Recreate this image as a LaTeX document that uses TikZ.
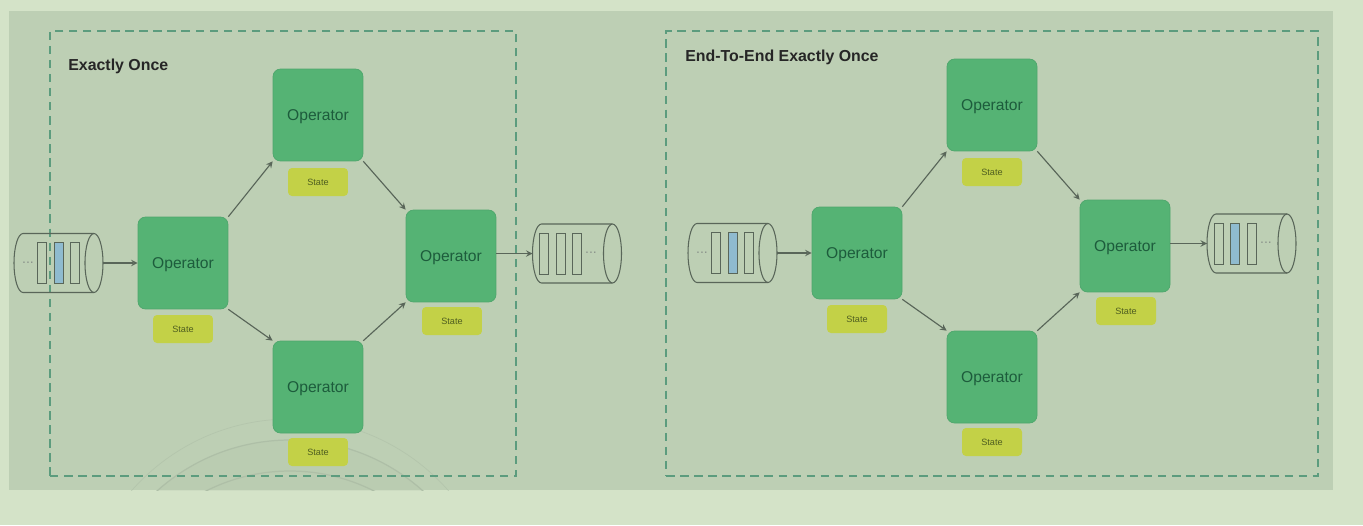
\documentclass[tikz,border=0pt]{standalone}
\usepackage{fontspec}
\setmainfont{Liberation Sans}
\definecolor{pagegreen}{HTML}{D4E3C8}
\definecolor{panelgreen}{HTML}{BDCFB4}
\definecolor{opgreen}{HTML}{55B374}
\definecolor{opedge}{HTML}{4FA76D}
\definecolor{optext}{HTML}{1D5C3C}
\definecolor{stateyellow}{HTML}{C3D147}
\definecolor{statetext}{HTML}{4F5E20}
\definecolor{dashgreen}{HTML}{5C9C7E}
\definecolor{linegray}{HTML}{596659}
\definecolor{slotblue}{HTML}{8FBBCF}
\definecolor{arcgray}{HTML}{AEBFA7}
\def\queueshape(#1){
	\draw[queueline] ([xshift=-0.18cm]#1.north east) -- ([xshift=0.18cm]#1.north west)
		.. controls ([xshift=0.08cm]#1.north west) and ([yshift=0.326cm]#1.west) .. (#1.west)
		.. controls ([yshift=-0.326cm]#1.west) and ([xshift=0.08cm]#1.south west) .. ([xshift=0.18cm]#1.south west)
		-- ([xshift=-0.18cm]#1.south east);
	\draw[queueline] ([xshift=-0.18cm]#1.east) ellipse (9 and 29.5);
}
\tikzset{
	operator/.style={draw=opedge, fill=opgreen, rounded corners=1.5mm, minimum width=1.8cm, minimum height=1.84cm, inner sep=0pt, text=optext, text depth=0pt, font=\fontsize{8.9}{10}\selectfont},
	statebox/.style={fill=stateyellow, rounded corners=0.8mm, minimum width=1.2cm, minimum height=0.56cm, inner sep=0pt, text=statetext, font=\fontsize{5.2}{6}\selectfont},
	queue/.style={minimum width=1.78cm, minimum height=1.18cm, inner sep=0pt, outer sep=0pt},
	queueline/.style={draw=linegray, line width=0.6pt},
	slot/.style={draw=linegray, line width=0.5pt, minimum width=0.18cm, minimum height=0.82cm, inner sep=0pt},
	dotsmark/.style={text=linegray!70, inner sep=0pt, font=\fontsize{8}{8}\selectfont},
	flow/.style={draw=linegray, line width=0.65pt, -stealth},
	framebox/.style={draw=dashgreen, line width=0.8pt, dash pattern=on 4.8pt off 3.2pt},
	titletext/.style={inner sep=0pt, anchor=west, font=\fontsize{9.05}{10}\selectfont\bfseries, text=black!85}
}

\begin{document}
\begin{tikzpicture}[x=0.02cm, y=-0.02cm]
	%%%%% START %%%%%
	\useasboundingbox (0, 0) rectangle (1363, 525);
	\fill[pagegreen] (0, 0) rectangle (1363, 525);
	\fill[panelgreen] (9, 11) rectangle (1333, 490);

	% faint rings at the bottom
	\begin{scope}
		\clip (9, 11) rectangle (1333, 490);
		\fill[arcgray, opacity=0.18] (290, 639) circle (199);
		\draw[arcgray, line width=0.4pt, opacity=0.6] (290, 630) circle (211);
		\draw[arcgray, line width=0.7pt] (290, 639) circle (199);
		\draw[arcgray, line width=0.7pt] (290, 657) circle (186);
	\end{scope}

	\node[framebox, minimum width=9.32cm, minimum height=8.9cm, inner sep=0pt] (frameL) at (283, 253.5) {};
	\node[framebox, minimum width=13.04cm, minimum height=8.9cm, inner sep=0pt] (frameR) at (992, 253.5) {};
	\node[titletext] (titleL) at (68, 66) {Exactly Once};
	\node[titletext] (titleR) at (685, 57) {End-To-End Exactly Once};

	%%%%% LEFT %%%%%
	\node[operator] (opA) at (183, 263) {Operator};
	\node[operator] (opB) at (318, 115) {Operator};
	\node[operator] (opC) at (318, 387) {Operator};
	\node[operator] (opD) at (451, 256) {Operator};
	\node[statebox] (stA) at (183, 329) {State};
	\node[statebox] (stB) at (318, 182) {State};
	\node[statebox] (stC) at (318, 452) {State};
	\node[statebox] (stD) at (452, 321) {State};

	\node[queue] (inL) at (58.5, 263) {};
	\queueshape(inL)
	\node[dotsmark] (inLdots) at (28, 263) {...};
	\node[slot] (inLa) at (41.5, 263) {};
	\node[slot, fill=slotblue] (inLb) at (58.5, 263) {};
	\node[slot] (inLc) at (74.5, 263) {};

	\node[queue] (outL) at (577, 253.5) {};
	\queueshape(outL)
	\node[dotsmark] (outLdots) at (591, 253) {...};
	\node[slot] (outLa) at (543.5, 253.5) {};
	\node[slot] (outLb) at (560.5, 253.5) {};
	\node[slot] (outLc) at (576.5, 253.5) {};

	\draw[flow] (inL.east) -- (opA.west);
	\draw[flow] (opA.north east) -- (opB.south west);
	\draw[flow] (opA.south east) -- (opC.north west);
	\draw[flow] (opB.south east) -- (opD.north west);
	\draw[flow] (opC.north east) -- (opD.south west);
	\draw[flow] (opD.east |- outL.west) -- (outL.west);

	%%%%% RIGHT %%%%%
	\node[operator] (opE) at (857, 253) {Operator};
	\node[operator] (opF) at (992, 105) {Operator};
	\node[operator] (opG) at (992, 377) {Operator};
	\node[operator] (opH) at (1125, 246) {Operator};
	\node[statebox] (stE) at (857, 319) {State};
	\node[statebox] (stF) at (992, 172) {State};
	\node[statebox] (stG) at (992, 442) {State};
	\node[statebox] (stH) at (1126, 311) {State};

	\node[queue] (inR) at (732.5, 253) {};
	\queueshape(inR)
	\node[dotsmark] (inRdots) at (702, 253) {...};
	\node[slot] (inRa) at (715.5, 253) {};
	\node[slot, fill=slotblue] (inRb) at (732.5, 253) {};
	\node[slot] (inRc) at (748.5, 253) {};

	\node[queue] (outR) at (1251.5, 243.5) {};
	\queueshape(outR)
	\node[dotsmark] (outRdots) at (1266, 243) {...};
	\node[slot] (outRa) at (1218.5, 243.5) {};
	\node[slot, fill=slotblue] (outRb) at (1234.5, 243.5) {};
	\node[slot] (outRc) at (1251.5, 243.5) {};

	\draw[flow] (inR.east) -- (opE.west);
	\draw[flow] (opE.north east) -- (opF.south west);
	\draw[flow] (opE.south east) -- (opG.north west);
	\draw[flow] (opF.south east) -- (opH.north west);
	\draw[flow] (opG.north east) -- (opH.south west);
	\draw[flow] (opH.east |- outR.west) -- (outR.west);
	%%%%% END %%%%%
\end{tikzpicture}
\end{document}
